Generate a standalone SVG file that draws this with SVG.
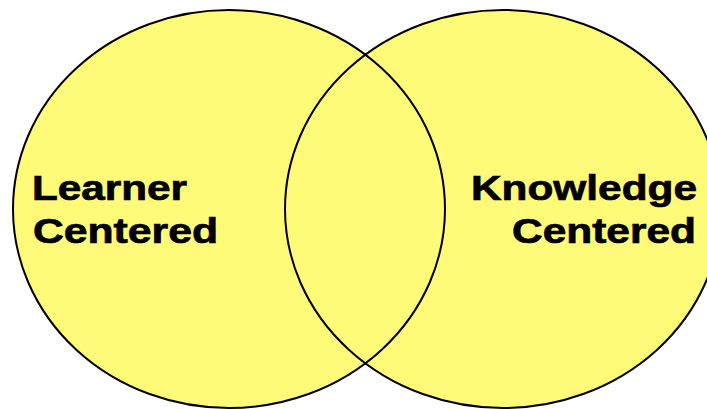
<svg xmlns="http://www.w3.org/2000/svg" width="707" height="409" viewBox="0 0 707 409">
<style>
.fill{fill:#FFFA78;stroke:none}
.ring{fill:none;stroke:#000;stroke-width:2}
.lbl{font-family:"Liberation Sans",Arial,sans-serif;font-weight:bold;font-size:35px;fill:#000;stroke:#000;stroke-width:0.7}
</style>
<rect width="707" height="409" fill="#fff"/>
<g id="shapes">
<ellipse class="fill" cx="229" cy="209" rx="216" ry="199"/>
<ellipse class="fill" cx="503" cy="209" rx="218" ry="199"/>
<ellipse class="ring" cx="229" cy="209" rx="216" ry="199"/>
<ellipse class="ring" cx="503" cy="209" rx="218" ry="199"/>
</g>
<g id="learner-centered">
<text class="lbl" x="32" y="200" textLength="155" lengthAdjust="spacingAndGlyphs">Learner</text>
<text class="lbl" x="33" y="243" textLength="185" lengthAdjust="spacingAndGlyphs">Centered</text>
</g>
<g id="knowledge-centered">
<text class="lbl" x="471" y="200" textLength="226" lengthAdjust="spacingAndGlyphs">Knowledge</text>
<text class="lbl" x="512" y="243" textLength="184" lengthAdjust="spacingAndGlyphs">Centered</text>
</g>
</svg>
